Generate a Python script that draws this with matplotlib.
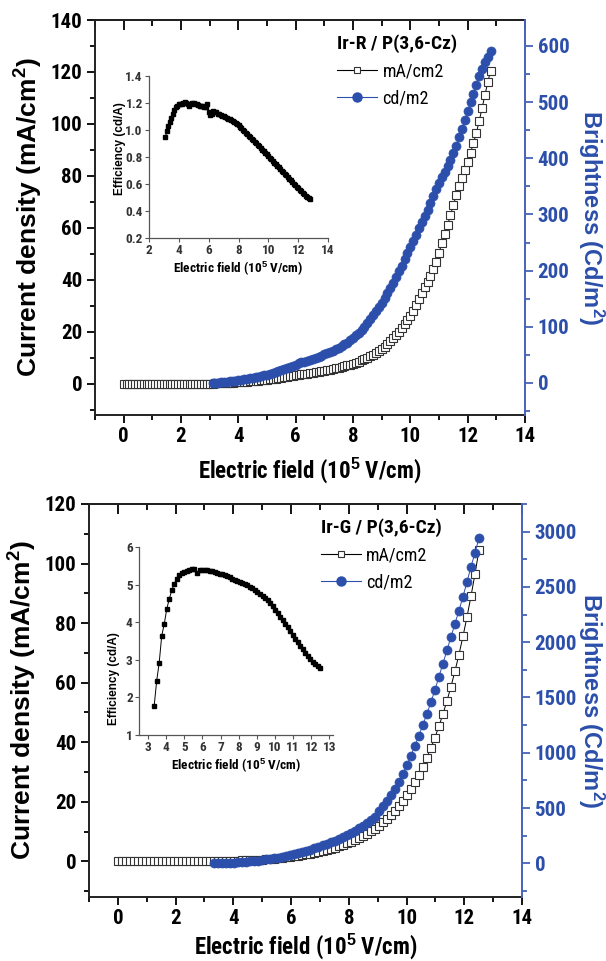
import numpy as np
import matplotlib
matplotlib.use("Agg")
import matplotlib.pyplot as plt
from matplotlib.lines import Line2D
from matplotlib.ticker import MultipleLocator

plt.rcParams["font.family"] = ["Roboto Condensed", "Liberation Sans Narrow", "Liberation Sans", "DejaVu Sans"]
plt.rcParams["font.weight"] = "bold"
plt.rcParams["axes.labelweight"] = "bold"
plt.rcParams["mathtext.fontset"] = "custom"
plt.rcParams["mathtext.rm"] = "Liberation Sans:bold"
plt.rcParams["mathtext.default"] = "rm"

BLUE = "#2b4faa"
AXBLUE = "#4763b9"

# ---- Ir-R / P(3,6-Cz): field sweep 0..12.8 (10^5 V/cm), step 0.1
r_field = np.round(np.arange(0, 12.85, 0.1), 2)
r_current = [0] * 30 + [
    0.05, 0.1, 0.15, 0.2, 0.25, 0.3, 0.36, 0.42, 0.48, 0.55,
    0.62, 0.7, 0.78, 0.87, 0.96, 1.05, 1.15, 1.26, 1.37, 1.49,
    1.61, 1.74, 1.88, 2.02, 2.17, 2.33, 2.5, 2.68, 2.87, 3.07,
    3.28, 3.45, 3.6, 3.76, 3.92, 4.1, 4.28, 4.46, 4.65, 4.85,
    5.05, 5.26, 5.48, 5.71, 5.95, 6.2, 6.47, 6.76, 7.06, 7.38,
    7.72, 8.1, 8.5, 9.0, 9.5, 10.0, 10.6, 11.2, 11.9, 12.6,
    13.4, 14.3, 15.3, 16.4, 17.6, 18.8, 20.1, 21.5, 23.0, 24.5,
    26.1, 28.2, 30.4, 32.6, 34.9, 37.1, 39.3, 41.6, 44.0, 47.0,
    50.5, 54.0, 57.5, 61.0, 65.0, 68.8, 72.5, 76.0, 79.3, 82.3,
    85.5, 89.0, 92.5, 96.5, 101.0, 106.0, 111.0, 116.0, 120.5]
R_ON = 31  # brightness starts at 3.1
r_bright = [
    0, 0.4, 0.8, 1.3, 1.8, 2.3, 2.9, 3.5, 4.1,
    4.8, 5.5, 6.3, 7.1, 8.0, 9.0, 10.0, 11.1, 12.3, 13.6,
    15, 16.5, 18, 19.6, 21.2, 22.9, 24.7, 26.6, 28.6, 30.7,
    32.8, 35, 36.5, 38, 39.5, 41, 42.8, 44.6, 46.6, 48.7,
    50.8, 52.9, 55.1, 57.5, 60, 62.7, 65.6, 68.7, 72, 75.8,
    80, 84.5, 89.3, 94.4, 100, 106.5, 113.5, 120.5, 127.5, 135,
    143, 151.5, 160, 169, 178.5, 188.5, 198.5, 209, 220, 231,
    242, 253, 264, 275, 286, 297, 308.5, 320, 332, 344.5,
    356, 366, 376, 386, 397, 409, 422, 437, 452, 468,
    484, 500, 515, 531, 546, 559, 571, 581, 590]
r_eff = [
    0.95, 0.99, 1.03, 1.06, 1.09, 1.12, 1.15, 1.17, 1.18,
    1.19, 1.19, 1.19, 1.2, 1.21, 1.2, 1.19, 1.18, 1.19, 1.2,
    1.2, 1.19, 1.19, 1.185, 1.18, 1.18, 1.175, 1.17, 1.17, 1.19,
    1.13, 1.11, 1.12, 1.14, 1.13, 1.13, 1.12, 1.115, 1.11, 1.105,
    1.1, 1.095, 1.09, 1.085, 1.08, 1.075, 1.07, 1.062, 1.055, 1.045,
    1.035, 1.025, 1.015, 1.003, 0.992, 0.981, 0.97, 0.959, 0.948, 0.937,
    0.926, 0.914, 0.903, 0.891, 0.879, 0.867, 0.855, 0.843, 0.831, 0.819,
    0.807, 0.795, 0.783, 0.771, 0.759, 0.747, 0.735, 0.723, 0.711, 0.699,
    0.687, 0.675, 0.663, 0.651, 0.639, 0.627, 0.615, 0.603, 0.591, 0.579,
    0.567, 0.556, 0.545, 0.534, 0.523, 0.513, 0.503, 0.494, 0.486]

# ---- Ir-G / P(3,6-Cz): field sweep 0..12.51, step 0.139
g_field = np.round(np.arange(91) * 0.139, 3)
g_current = [0] * 22 + [
    0.02, 0.04, 0.06, 0.08, 0.11, 0.14, 0.17, 0.21, 0.25, 0.29,
    0.33, 0.38, 0.44, 0.51, 0.59, 0.68, 0.78, 0.89, 1.01, 1.14,
    1.28, 1.44, 1.62, 1.82, 2.04, 2.28, 2.54, 2.82, 3.12, 3.45,
    3.8, 4.18, 4.6, 5.05, 5.53, 6.05, 6.6, 7.2, 7.85, 8.55,
    9.3, 10.1, 11.0, 12.0, 13.1, 14.3, 15.6, 17.0, 18.6, 20.3,
    22.2, 24.3, 26.6, 29.1, 31.8, 34.8, 38.0, 41.5, 45.3, 49.4,
    53.8, 58.6, 63.8, 69.4, 75.5, 82.0, 89.0, 96.5, 104.5]
G_ON = 24  # brightness starts at 3.34
g_bright = [
    0, 1, 2, 3, 5, 7, 9, 11, 14, 17,
    21, 25, 30, 35, 40, 46, 52, 59, 67, 75,
    84, 93, 103, 113, 124, 136, 148, 161, 175, 189,
    204, 220, 237, 255, 274, 294, 316, 339, 364, 391,
    420, 470, 514, 565, 618, 672, 735, 810, 888, 970,
    1062, 1155, 1250, 1350, 1455, 1565, 1685, 1805, 1925, 2045,
    2165, 2285, 2410, 2545, 2680, 2810, 2940]
g_eff = [
    1.77, 2.44, 2.92, 3.64, 3.95, 4.35, 4.62, 4.85, 5.02, 5.15,
    5.26, 5.31, 5.34, 5.36, 5.38, 5.41, 5.42, 5.30, 5.40, 5.39,
    5.38, 5.38, 5.36, 5.35, 5.33, 5.31, 5.29, 5.27, 5.25, 5.22,
    5.19, 5.15, 5.11, 5.09, 5.08, 5.05, 5.02, 4.98, 4.94, 4.90,
    4.86, 4.81, 4.76, 4.71, 4.65, 4.58, 4.51, 4.42, 4.33, 4.24,
    4.15, 4.05, 3.96, 3.86, 3.76, 3.66, 3.56, 3.47, 3.37, 3.28,
    3.19, 3.10, 3.02, 2.95, 2.89, 2.83, 2.78]

W, H = 606, 961
WIDE = ["Liberation Sans", "DejaVu Sans"]
RIGHT_LABEL_X = 591  # centre of the right-hand axis title, px


def px_rect(x0, x1, y0, y1):
    return [x0 / W, 1 - y1 / H, (x1 - x0) / W, (y1 - y0) / H]


def panel(fig, rect, inset_rect, title, field, current, on, bright, eff,
          cur_lim, cur_step, br_lim, br_step, in_xlim, in_xstep, in_ylim, in_ystep,
          xlabelpad, leg_x, eff_label_y):
    ax = fig.add_axes(rect)
    ax.plot(field, current, "-", color="black", lw=0.7, marker="s", ms=5.5,
            mfc="white", mec="#333333", mew=0.8)
    ax.set_xlim(-1, 14)
    ax.set_ylim(*cur_lim)
    ax.xaxis.set_major_locator(MultipleLocator(2))
    ax.xaxis.set_minor_locator(MultipleLocator(1))
    ax.yaxis.set_major_locator(MultipleLocator(cur_step))
    ax.yaxis.set_minor_locator(MultipleLocator(cur_step / 2))
    ax.tick_params(which="both", direction="out", width=1.3, labelsize=15, pad=3)
    ax.tick_params(which="major", length=6)
    ax.tick_params(which="minor", length=3.5)
    for s in ["left", "bottom", "top"]:
        ax.spines[s].set_linewidth(1.4)
        ax.spines[s].set_color("#222222")
    ax.spines["right"].set_visible(False)
    top = ax.secondary_xaxis("top")
    top.xaxis.set_major_locator(MultipleLocator(2))
    top.xaxis.set_minor_locator(MultipleLocator(1))
    top.tick_params(which="both", direction="in", width=1.3, labeltop=False)
    top.tick_params(which="major", length=7)
    top.tick_params(which="minor", length=4)
    top.spines["top"].set_linewidth(1.4)

    ax.set_xlabel("Electric field (10$^5$ V/cm)", fontsize=16.5, labelpad=xlabelpad)
    ax.set_ylabel("Current density (mA/cm$^2$)", fontsize=19, labelpad=4,
                  family=WIDE)

    ax2 = ax.twinx()
    ax2.plot(field[on:], bright, "-", color=BLUE, lw=0.7, marker="o", ms=6.5,
             mfc=BLUE, mec=BLUE, mew=0.5)
    ax2.set_ylim(*br_lim)
    ax2.yaxis.set_major_locator(MultipleLocator(br_step))
    ax2.yaxis.set_minor_locator(MultipleLocator(br_step / 2))
    ax2.tick_params(which="both", direction="out", width=1.3, labelsize=15,
                    colors=AXBLUE, labelcolor=BLUE, pad=3)
    ax2.tick_params(which="major", length=6)
    ax2.tick_params(which="minor", length=3.5)
    for s in ["left", "bottom", "top"]:
        ax2.spines[s].set_visible(False)
    ax2.spines["right"].set_color(AXBLUE)
    ax2.spines["right"].set_linewidth(1.4)
    ax2.set_ylabel("Brightness (Cd/m$^2$)", fontsize=17, color=BLUE,
                   rotation=270, family=WIDE)
    ax2.yaxis.label.set_ha("center")
    ax2.yaxis.label.set_va("center")
    ax2.yaxis.label.set_rotation_mode("default")
    ax2.yaxis.set_label_coords((RIGHT_LABEL_X / W - rect[0]) / rect[2], 0.5)

    handles = [
        Line2D([], [], color="black", lw=0.8, marker="s", ms=5, mfc="white",
               mec="#333333", mew=0.8),
        Line2D([], [], color=BLUE, lw=0.8, marker="o", ms=6.5, mfc=BLUE, mec=BLUE),
    ]
    leg = ax2.legend(handles, ["mA/cm2", "cd/m2"], title=title, loc="upper left",
                     bbox_to_anchor=(leg_x, 1.0), frameon=False, handlelength=2.2,
                     handletextpad=0.3, labelspacing=0.5, borderpad=0.3,
                     prop={"size": 13, "weight": "normal"},
                     title_fontproperties={"size": 14, "weight": "bold"})
    leg._legend_box.align = "left"

    ins = fig.add_axes(inset_rect)
    ins.plot(field[on:], eff, "-", color="black", lw=0.7, marker="s", ms=2.6,
             mfc="black", mec="black")
    ins.set_xlim(*in_xlim)
    ins.set_ylim(*in_ylim)
    ins.xaxis.set_major_locator(MultipleLocator(in_xstep))
    ins.yaxis.set_major_locator(MultipleLocator(in_ystep))
    ins.spines["right"].set_visible(False)
    ins.spines["top"].set_visible(False)
    for s in ["left", "bottom"]:
        ins.spines[s].set_linewidth(0.9)
        ins.spines[s].set_color("#555555")
    ins.tick_params(direction="out", length=3, width=0.8, labelsize=9.5, pad=1.5,
                    colors="#555555", labelcolor="#333333")
    ins.set_xlabel("Electric field (10$^5$ V/cm)", fontsize=9.5, labelpad=1)
    ins.set_ylabel("Efficiency (cd/A)", fontsize=8.5, labelpad=2, family=WIDE)
    ins.yaxis.set_label_coords(-0.13 if in_ystep < 1 else -0.1, eff_label_y)
    ins.patch.set_alpha(0)
    return ax


fig = plt.figure(figsize=(W / 100, H / 100), dpi=100)

panel(fig, px_rect(95, 525, 20, 415), px_rect(149, 328, 76, 238),
      "Ir-R / P(3,6-Cz)", r_field, r_current, R_ON, r_bright, r_eff,
      (-12, 140), 20, (-57, 646), 100, (2, 14), 2, (0.2, 1.4), 0.2, 6,
      0.53, 0.55)

panel(fig, px_rect(89, 522, 504, 897), px_rect(139, 333, 547, 735),
      "Ir-G / P(3,6-Cz)", g_field, g_current, G_ON, g_bright, g_eff,
      (-12, 120), 20, (-305, 3250), 500, (2.5, 13.2), 1, (1, 6), 1, 2,
      0.502, 0.3)

fig.savefig("out.png", dpi=100)
